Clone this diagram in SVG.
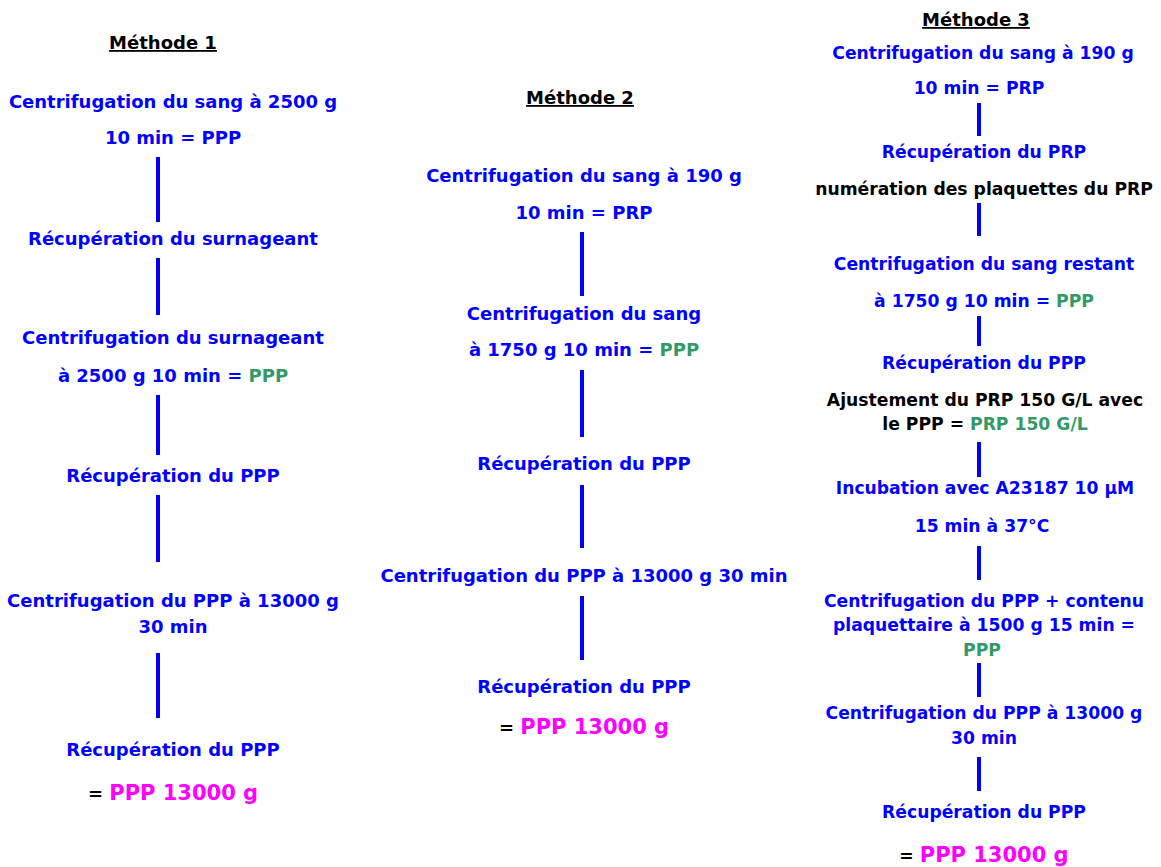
<svg xmlns="http://www.w3.org/2000/svg" width="1161" height="867" viewBox="0 0 1161 867">
<style>
text{font-family:"Comic Sans MS","DejaVu Sans",sans-serif;font-weight:bold;font-size:18px;text-anchor:middle;fill:#0000ff}
.s text{font-size:17.2px}
.t{fill:#000;font-size:18px;text-decoration:underline}
.k{fill:#000}
.g{fill:#339966}
.m{fill:#ff00ff;font-size:21px}
.s .m{font-size:21px}
.c line{stroke:#0000ff;stroke-width:4}
</style>
<rect width="1161" height="867" fill="#fff"/>
<g id="titles">
<text class="t" x="163" y="49">Méthode 1</text>
<text class="t" x="580" y="104">Méthode 2</text>
<text class="t" x="976" y="26">Méthode 3</text>
</g>
<g class="c" id="connectors">
<line x1="158" y1="157" x2="158" y2="222"/>
<line x1="158" y1="258" x2="158" y2="315"/>
<line x1="158" y1="395" x2="158" y2="455"/>
<line x1="158" y1="495" x2="158" y2="562"/>
<line x1="158" y1="653" x2="158" y2="718"/>
<line x1="582" y1="232" x2="582" y2="296"/>
<line x1="582" y1="370" x2="582" y2="437"/>
<line x1="582" y1="485" x2="582" y2="548"/>
<line x1="582" y1="596" x2="582" y2="660"/>
<line x1="979" y1="103" x2="979" y2="136"/>
<line x1="979" y1="203" x2="979" y2="236"/>
<line x1="979" y1="316" x2="979" y2="346"/>
<line x1="979" y1="442" x2="979" y2="477"/>
<line x1="979" y1="546" x2="979" y2="580"/>
<line x1="979" y1="663" x2="979" y2="697"/>
<line x1="979" y1="757" x2="979" y2="791"/>
</g>
<g id="m1-n1"><text x="173" y="108">Centrifugation du sang à 2500 g</text><text x="173" y="144">10 min = PPP</text></g>
<g id="m1-n2"><text x="173" y="245">Récupération du surnageant</text></g>
<g id="m1-n3"><text x="173" y="344">Centrifugation du surnageant</text><text x="173" y="382">à 2500 g 10 min = <tspan class="g">PPP</tspan></text></g>
<g id="m1-n4"><text x="173" y="482">Récupération du PPP</text></g>
<g id="m1-n5"><text x="173" y="607">Centrifugation du PPP à 13000 g</text><text x="173" y="633">30 min</text></g>
<g id="m1-n6"><text x="173" y="756">Récupération du PPP</text><text x="173" y="800"><tspan class="k">= </tspan><tspan class="m">PPP 13000 g</tspan></text></g>
<g id="m2-n1"><text x="584" y="182">Centrifugation du sang à 190 g</text><text x="584" y="219">10 min = PRP</text></g>
<g id="m2-n2"><text x="584" y="320">Centrifugation du sang</text><text x="584" y="356">à 1750 g 10 min = <tspan class="g">PPP</tspan></text></g>
<g id="m2-n3"><text x="584" y="470">Récupération du PPP</text></g>
<g id="m2-n4"><text x="584" y="582">Centrifugation du PPP à 13000 g 30 min</text></g>
<g id="m2-n5"><text x="584" y="693">Récupération du PPP</text><text x="584" y="734"><tspan class="k">= </tspan><tspan class="m">PPP 13000 g</tspan></text></g>
<g class="s">
<g id="m3-n1"><text x="983" y="59">Centrifugation du sang à 190 g</text><text x="979" y="94">10 min = PRP</text></g>
<g id="m3-n2"><text x="984" y="158">Récupération du PRP</text><text class="k" x="984" y="195">numération des plaquettes du PRP</text></g>
<g id="m3-n3"><text x="984" y="270">Centrifugation du sang restant</text><text x="984" y="307">à 1750 g 10 min = <tspan class="g">PPP</tspan></text></g>
<g id="m3-n4"><text x="984" y="369">Récupération du PPP</text><text class="k" x="985" y="406">Ajustement du PRP 150 G/L avec</text><text class="k" x="985" y="430">le PPP = <tspan class="g">PRP 150 G/L</tspan></text></g>
<g id="m3-n5"><text x="985" y="494">Incubation avec A23187 10 µM</text><text x="982" y="532">15 min à 37°C</text></g>
<g id="m3-n6"><text x="984" y="607">Centrifugation du PPP + contenu</text><text x="984" y="631">plaquettaire à 1500 g 15 min =</text><text class="g" x="982" y="656">PPP</text></g>
<g id="m3-n7"><text x="984" y="719">Centrifugation du PPP à 13000 g</text><text x="984" y="744">30 min</text></g>
<g id="m3-n8"><text x="984" y="818">Récupération du PPP</text><text x="984" y="862"><tspan class="k">= </tspan><tspan class="m">PPP 13000 g</tspan></text></g>
</g>
</svg>
